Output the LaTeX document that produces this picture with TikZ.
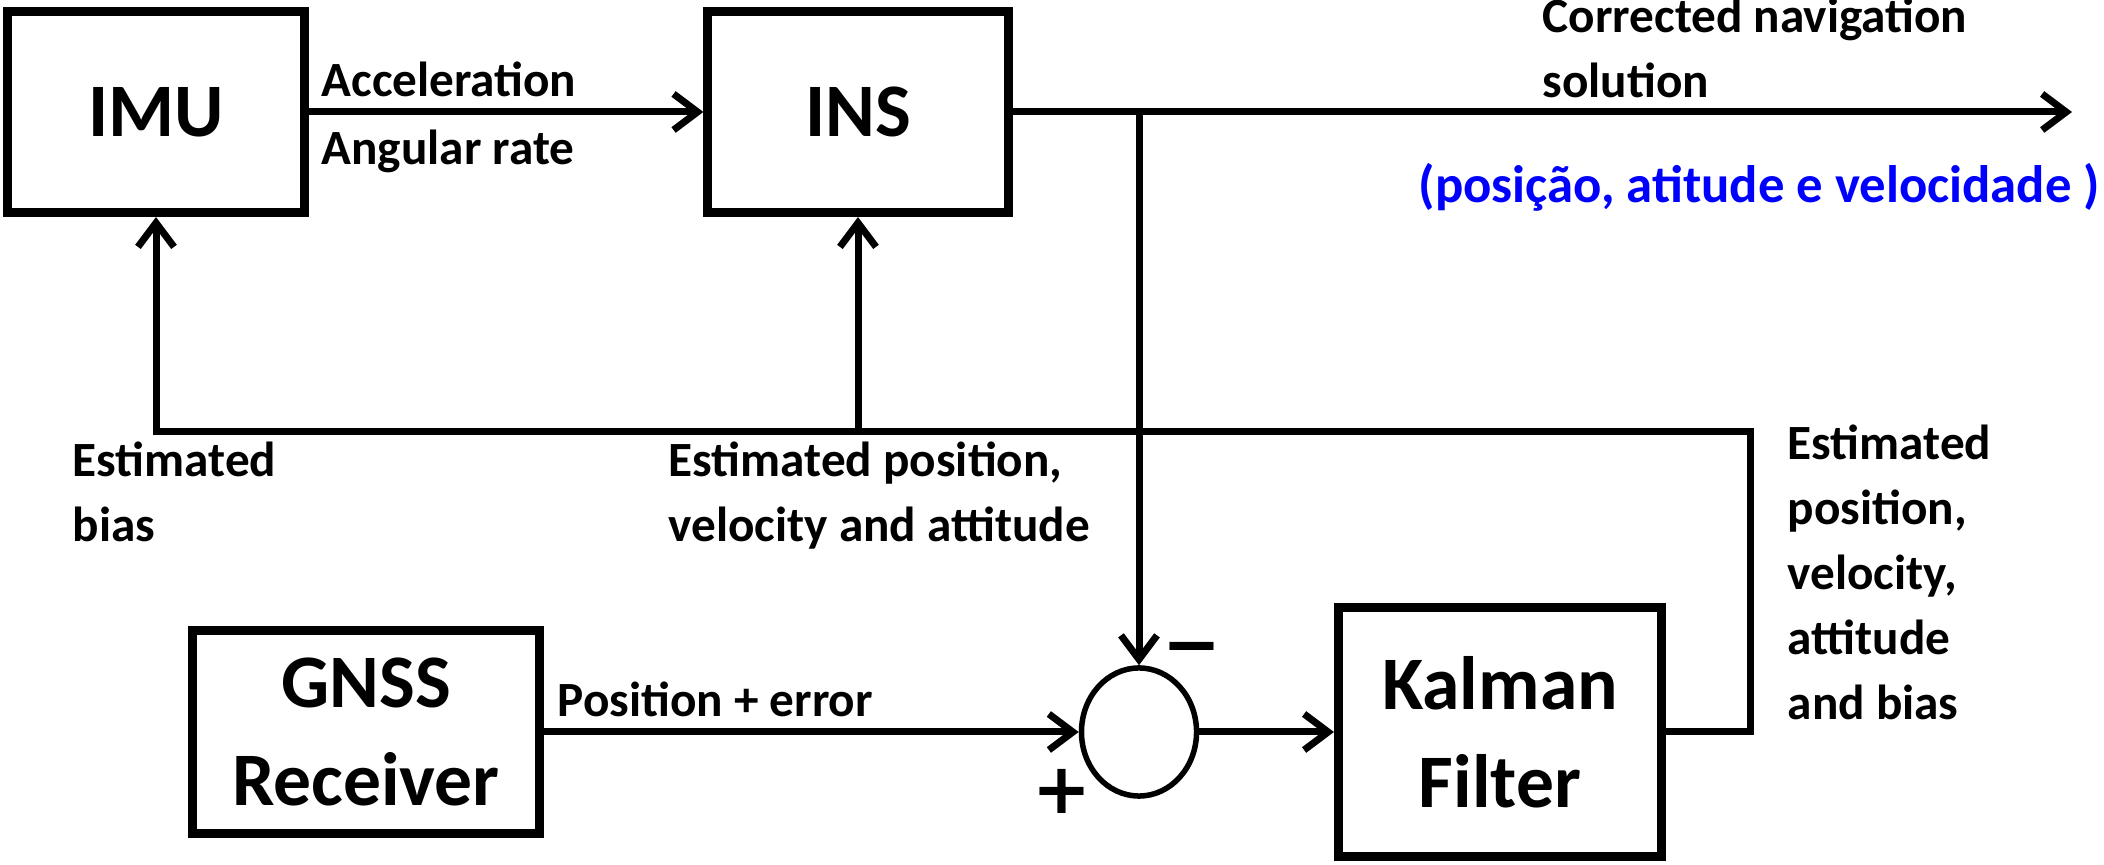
\documentclass[tikz,border=0pt]{standalone}
\usepackage{fontspec}
\setmainfont{Carlito}
\newfontfamily\signfont{DejaVu Sans}
\usetikzlibrary{arrows.meta,positioning,shapes.geometric}
\definecolor{labelblue}{RGB}{0,0,255}

\tikzset{
  block/.style={draw, line width=0.09cm, align=center, inner sep=0pt,
                font=\fontsize{21.5}{28}\selectfont\bfseries},
  conn/.style={line width=0.07cm},
  arr/.style={conn, -{Straight Barb[length=0.24cm, width=0.36cm]}},
  lbl/.style={font=\fontsize{14}{18.5}\selectfont\bfseries, anchor=base west,
              inner sep=0pt, align=left},
  sign/.style={font=\signfont\bfseries\fontsize{20}{20}\selectfont, inner sep=0pt}
}

\begin{document}
\begin{tikzpicture}[x=0.01cm, y=-0.01cm]
    \useasboundingbox (0,0) rectangle (2104,865);
    % blocks
    \node[block, minimum width=2.97cm, minimum height=2.01cm] (imu) at (156,112) {IMU};
    \node[block, minimum width=3.00cm, minimum height=2.01cm] (ins) at (858,112) {INS};
    \node[block, minimum width=3.47cm, minimum height=2.02cm] (gnss) at (366,732) {GNSS\\Receiver};
    \node[block, minimum width=3.23cm, minimum height=2.48cm] (kf) at (1500,732) {Kalman\\Filter};
    \node[draw, ellipse, line width=0.055cm, inner sep=0pt,
          minimum width=1.15cm, minimum height=1.28cm] (sum) at (1139,732) {};
    \coordinate (out) at (2072,112);
    \coordinate (fbr) at (1750,432);
    % connectors
    \draw[arr] (imu) -- (ins);
    \draw[arr] (ins) -- (out);
    \draw[arr] (ins.east -| sum) -- (sum);
    \draw[arr] (gnss) -- (sum);
    \draw[arr] (sum) -- (kf);
    \draw[arr] (kf) -| (fbr) -| (imu);
    \draw[arr] (ins |- fbr) -- (ins);
    % labels (multi-line ones sit on their last baseline)
    \node[lbl] (accel) at (321,97) {Acceleration};
    \node[lbl] (angrate) at (321,165) {Angular rate};
    \node[lbl] (corr) at (1542,98) {Corrected navigation\\solution};
    \node[lbl, font=\fontsize{15}{18.5}\selectfont\bfseries, text=labelblue] (pav)
        at (1418,203) {(posição, atitude e velocidade )};
    \node[lbl] (estbias) at (72,542) {Estimated\\bias};
    \node[lbl] (estpva) at (668,542) {Estimated position,\\velocity and attitude};
    \node[lbl] (poserr) at (557,717) {Position + error};
    \node[lbl] (estall) at (1787,720) {Estimated\\position,\\velocity,\\attitude\\and bias};
    \node[sign] (minus) at (1192,655) {−};
    \node[sign] (plus) at (1062,791) {+};
\end{tikzpicture}
\end{document}
